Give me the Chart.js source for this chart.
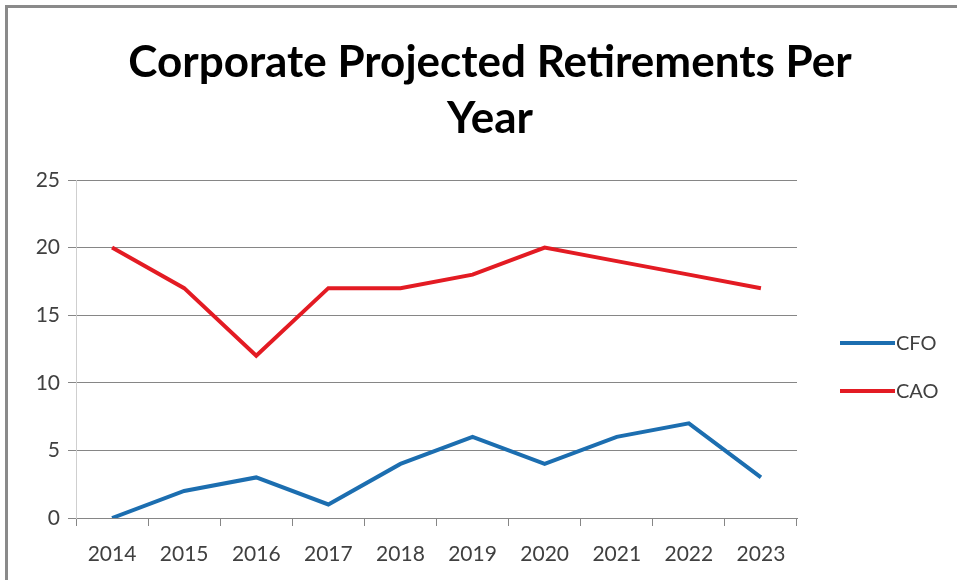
<!DOCTYPE html>
<html>
<head>
<meta charset="utf-8">
<script src="https://cdn.jsdelivr.net/npm/chart.js@4"></script>
<style>
  html, body { margin: 0; padding: 0; background: #fff; }
  #wrap { position: relative; width: 957px; height: 580px; overflow: hidden; }
  #frame { position: absolute; left: 5px; top: 5px; width: 1000px; height: 700px;
           border-left: 3px solid #8a8a8a; border-top: 3px solid #8a8a8a; }
  canvas { position: absolute; left: 0; top: 0; }
</style>
</head>
<body>
<div id="wrap">
  <div id="frame"></div>
  <canvas id="chart" width="957" height="580"></canvas>
</div>
<script>
const YEARS = ['2014', '2015', '2016', '2017', '2018', '2019', '2020', '2021', '2022', '2023'];
const CFO = [0, 2, 3, 1, 4, 6, 4, 6, 7, 3];
const CAO = [20, 17, 12, 17, 17, 18, 20, 19, 18, 17];
const TITLE_LINES = ['Corporate Projected Retirements Per', 'Year'];

const FONT = "Lato, 'Open Sans', sans-serif";

// Title centred over the whole chart (Excel style), not just the plot box
const bigTitle = {
  id: 'bigTitle',
  afterDraw(chart) {
    const { ctx } = chart;
    ctx.save();
    ctx.font = "bold 44px " + FONT;
    ctx.fillStyle = '#000';
    ctx.textAlign = 'center';
    ctx.textBaseline = 'middle';
    TITLE_LINES.forEach((t, i) => ctx.fillText(t, 490, 63 + i * 56));
    ctx.restore();
  }
};

// Legend drawn on the right: short line then label
const sideLegend = {
  id: 'sideLegend',
  afterDraw(chart) {
    const { ctx } = chart;
    ctx.save();
    ctx.font = "20px " + FONT;
    ctx.textBaseline = 'middle';
    chart.data.datasets.forEach((ds, i) => {
      const y = 343 + i * 48;
      ctx.strokeStyle = ds.borderColor;
      ctx.lineWidth = 4;
      ctx.beginPath();
      ctx.moveTo(840, y);
      ctx.lineTo(895, y);
      ctx.stroke();
      ctx.fillStyle = '#404040';
      ctx.fillText(ds.label, 896, y + 1);
    });
    ctx.restore();
  }
};

new Chart(document.getElementById('chart'), {
  type: 'line',
  plugins: [bigTitle, sideLegend],
  data: {
    labels: YEARS,
    datasets: [
      {
        label: 'CFO',
        data: CFO,
        borderColor: '#1c6eb0',
        borderWidth: 4,
        pointRadius: 0,
        tension: 0
      },
      {
        label: 'CAO',
        data: CAO,
        borderColor: '#e31b23',
        borderWidth: 4,
        pointRadius: 0,
        tension: 0
      }
    ]
  },
  options: {
    responsive: false,
    animation: false,
    layout: { padding: { left: 20, right: 160, top: 180, bottom: 5 } },
    plugins: {
      legend: { display: false },
      tooltip: { enabled: false },
      title: { display: false }
    },
    scales: {
      x: {
        offset: true,
        grid: { display: true, offset: true, drawOnChartArea: false, drawTicks: true,
                tickLength: 8, color: '#868686' },
        border: { color: '#868686' },
        ticks: { color: '#404040', font: { family: FONT, size: 21 }, padding: 16 },
        afterFit(scale) { scale.height = 57; }
      },
      y: {
        min: 0,
        max: 25,
        ticks: { stepSize: 5, color: '#404040', font: { family: FONT, size: 21 }, padding: 8 },
        grid: { color: '#868686', tickLength: 8 },
        border: { color: '#cfcfcf' },
        afterFit(scale) { scale.width = 56; }
      }
    }
  }
});
</script>
</body>
</html>
